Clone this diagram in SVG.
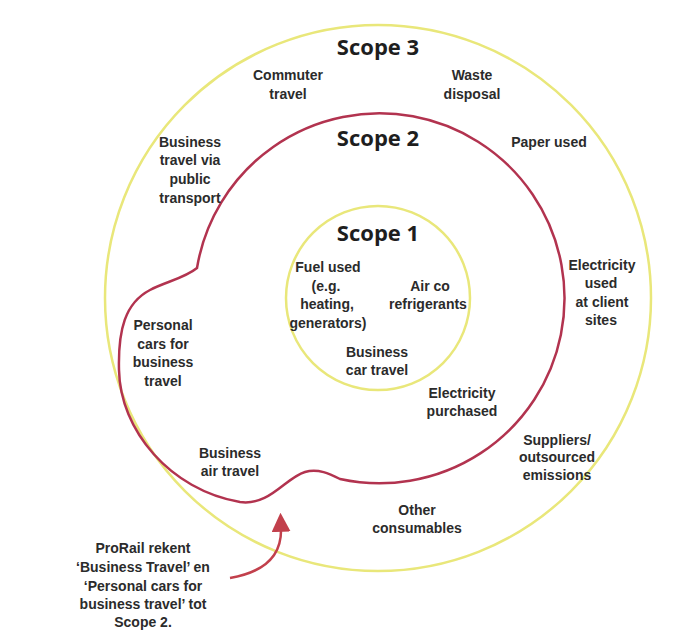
<svg xmlns="http://www.w3.org/2000/svg" width="687" height="634" viewBox="0 0 687 634">
<defs>
<style>
.ring{fill:none;stroke:#e9e77a;stroke-width:2.5}
.s2{fill:none;stroke:#b2334f;stroke-width:2.5}
.arr{fill:none;stroke:#c2404c;stroke-width:2.5}
text{fill:#2b2b2b;text-anchor:middle}
.t{font-family:"Liberation Sans",Arial,sans-serif;font-size:14px;font-weight:700}
.h{font-family:"Open Sans","Liberation Sans",sans-serif;font-size:22px;font-weight:700;fill:#1e1e1e}
</style>
<marker id="ah2" viewBox="0 0 20 20" refX="4" refY="10" markerWidth="19" markerHeight="19" markerUnits="userSpaceOnUse" orient="auto">
<path d="M0,0 L20,10 L0,20 z" fill="#c2404c"/>
</marker>
</defs>
<rect width="687" height="634" fill="#ffffff"/>
<g id="scope3">
<circle class="ring" cx="378" cy="298" r="273"/>
<text class="h" x="378" y="55">Scope 3</text>
</g>
<g id="scope2">
<path class="s2" d="M340,479 A185,185 0 1 0 197,268 C185,278 165,282 150,290 C125,303 118,330 119,370 C120,430 170,490 240,502 C270,506 285,478 305,472 C318,468 330,474 340,479 Z"/>
<text class="h" x="378" y="146">Scope 2</text>
</g>
<g id="scope1">
<circle class="ring" cx="378" cy="298" r="92"/>
<text class="h" x="378" y="241">Scope 1</text>
</g>
<g id="commuter"><text class="t" x="288" y="80">Commuter</text><text class="t" x="288" y="99">travel</text></g>
<g id="waste"><text class="t" x="472" y="80">Waste</text><text class="t" x="472" y="99">disposal</text></g>
<g id="paper"><text class="t" x="549" y="147">Paper used</text></g>
<g id="bt-public"><text class="t" x="190" y="147">Business</text><text class="t" x="190" y="165">travel via</text><text class="t" x="190" y="184">public</text><text class="t" x="190" y="203">transport</text></g>
<g id="fuel"><text class="t" x="328" y="272">Fuel used</text><text class="t" x="326" y="291">(e.g.</text><text class="t" x="327" y="309">heating,</text><text class="t" x="328" y="328">generators)</text></g>
<g id="airco"><text class="t" x="430" y="291">Air co</text><text class="t" x="428" y="309">refrigerants</text></g>
<g id="elec-client"><text class="t" x="602" y="270">Electricity</text><text class="t" x="601" y="288">used</text><text class="t" x="602" y="307">at client</text><text class="t" x="601" y="325">sites</text></g>
<g id="personal"><text class="t" x="163" y="330">Personal</text><text class="t" x="163" y="349">cars for</text><text class="t" x="163" y="367">business</text><text class="t" x="163" y="386">travel</text></g>
<g id="bizcar"><text class="t" x="377" y="357">Business</text><text class="t" x="377" y="375">car travel</text></g>
<g id="elec-purch"><text class="t" x="462" y="398">Electricity</text><text class="t" x="462" y="416">purchased</text></g>
<g id="suppliers"><text class="t" x="557" y="445">Suppliers/</text><text class="t" x="557" y="462">outsourced</text><text class="t" x="557" y="480">emissions</text></g>
<g id="bizair"><text class="t" x="230" y="458">Business</text><text class="t" x="230" y="476">air travel</text></g>
<g id="other"><text class="t" x="417" y="515">Other</text><text class="t" x="417" y="533">consumables</text></g>
<g id="note"><text class="t" x="143" y="553">ProRail rekent</text><text class="t" x="143" y="572">‘Business Travel’ en</text><text class="t" x="143" y="591">‘Personal cars for</text><text class="t" x="143" y="609">business travel’ tot</text><text class="t" x="143" y="627">Scope 2.</text></g>
<g id="connectors">
<path class="arr" d="M230,578 C265,572 282,556 281,528" marker-end="url(#ah2)"/>
</g>
</svg>
